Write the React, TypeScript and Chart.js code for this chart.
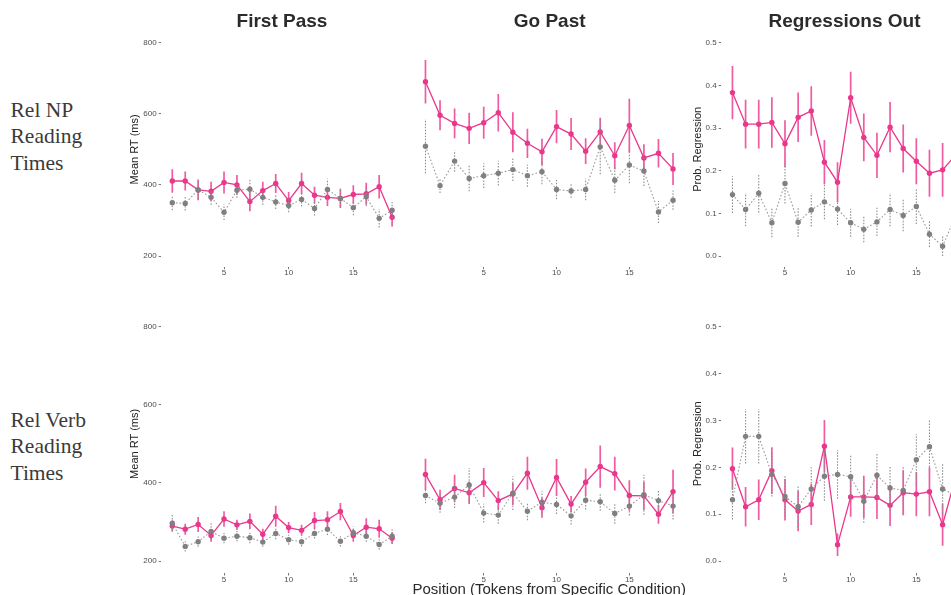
import React, { useEffect, useRef } from 'react';
import { Chart, registerables } from 'chart.js';

Chart.register(...registerables);

// ---------- data ----------
const positions = [1, 2, 3, 4, 5, 6, 7, 8, 9, 10, 11, 12, 13, 14, 15, 16, 17, 18];
const xTicks = [5, 10, 15];
const rtTicks = [200, 400, 600, 800];
const probTicks = [0, 0.1, 0.2, 0.3, 0.4, 0.5];
const panelTitles = ['First Pass', 'Go Past', 'Regressions Out'];
const rowLabels = [
  ['Rel NP', 'Reading', 'Times'],
  ['Rel Verb', 'Reading', 'Times'],
];
const xAxisTitle = 'Position (Tokens from Specific Condition)';
const rtTitle = 'Mean RT (ms)';
const probTitle = 'Prob. Regression';

// Rel NP — First Pass
const npFirstPassPink = [411, 411, 386, 382, 407, 400, 353, 384, 404, 356, 404, 371, 365, 362, 373, 375, 395, 309];
const npFirstPassPinkErr = [33, 27, 29, 27, 31, 28, 27, 25, 27, 24, 30, 24, 24, 27, 26, 31, 33, 26];
const npFirstPassGrey = [350, 348, 386, 365, 323, 385, 388, 365, 352, 342, 359, 334, 387, 362, 336, 367, 306, 329];
const npFirstPassGreyErr = [21, 20, 25, 21, 22, 21, 28, 21, 20, 19, 20, 20, 30, 23, 21, 27, 26, 23];

// Rel NP — Go Past
const npGoPastPink = [690, 596, 573, 559, 575, 603, 548, 517, 493, 564, 543, 495, 549, 482, 567, 476, 489, 445];
const npGoPastPinkErr = [61, 42, 42, 44, 45, 53, 56, 41, 37, 47, 45, 36, 40, 38, 75, 38, 40, 45];
const npGoPastGrey = [509, 398, 467, 418, 426, 433, 443, 426, 437, 387, 383, 387, 507, 413, 456, 439, 324, 357];
const npGoPastGreyErr = [76, 21, 30, 36, 35, 35, 32, 31, 35, 27, 19, 30, 77, 36, 51, 42, 31, 27];

// Rel NP — Regressions Out
const npRegPink = [0.383, 0.309, 0.309, 0.313, 0.263, 0.325, 0.34, 0.22, 0.173, 0.371, 0.278, 0.236, 0.302, 0.252, 0.222, 0.194, 0.202, 0.237];
const npRegPinkErr = [0.0625, 0.057, 0.057, 0.059, 0.055, 0.058, 0.058, 0.052, 0.047, 0.061, 0.056, 0.053, 0.059, 0.056, 0.054, 0.055, 0.063, 0.06];
const npRegGrey = [0.144, 0.109, 0.147, 0.078, 0.17, 0.079, 0.108, 0.127, 0.11, 0.078, 0.0625, 0.08, 0.109, 0.095, 0.116, 0.051, 0.023, 0.095];
const npRegGreyErr = [0.043, 0.039, 0.045, 0.034, 0.047, 0.034, 0.039, 0.041, 0.037, 0.033, 0.03, 0.033, 0.039, 0.037, 0.041, 0.03, 0.023, 0.035];

// Rel Verb — First Pass
const verbFirstPassPink = [290, 282, 294, 266, 308, 293, 302, 269, 315, 286, 279, 304, 306, 327, 266, 287, 283, 259];
const verbFirstPassPinkErr = [14, 14, 19, 16, 20, 13, 20, 14, 27, 14, 14, 22, 22, 22, 16, 23, 23, 15];
const verbFirstPassGrey = [297, 238, 250, 276, 259, 264, 260, 249, 271, 255, 250, 271, 282, 251, 273, 264, 243, 264];
const verbFirstPassGreyErr = [21, 13, 13, 21, 13, 13, 14, 12, 15, 13, 12, 13, 15, 13, 16, 14, 13, 17];

// Rel Verb — Go Past
const verbGoPastPink = [422, 357, 386, 375, 401, 355, 372, 425, 337, 414, 346, 402, 442, 424, 368, 367, 320, 378];
const verbGoPastPinkErr = [40, 26, 35, 29, 37, 24, 28, 42, 26, 47, 21, 35, 54, 43, 39, 36, 24, 56];
const verbGoPastGrey = [368, 348, 364, 395, 323, 318, 374, 328, 351, 345, 316, 356, 352, 322, 341, 370, 355, 341];
const verbGoPastGreyErr = [20, 24, 28, 43, 24, 22, 43, 23, 28, 24, 22, 24, 23, 26, 24, 51, 25, 34];

// Rel Verb — Regressions Out
const verbRegPink = [0.197, 0.116, 0.131, 0.193, 0.131, 0.107, 0.121, 0.245, 0.035, 0.137, 0.137, 0.136, 0.119, 0.146, 0.143, 0.148, 0.078, 0.18];
const verbRegPinkErr = [0.045, 0.042, 0.043, 0.05, 0.044, 0.043, 0.044, 0.056, 0.024, 0.042, 0.045, 0.046, 0.044, 0.048, 0.047, 0.052, 0.045, 0.045];
const verbRegGrey = [0.131, 0.266, 0.266, 0.185, 0.138, 0.116, 0.154, 0.181, 0.185, 0.18, 0.128, 0.183, 0.156, 0.151, 0.216, 0.244, 0.154, 0.14];
const verbRegGreyErr = [0.042, 0.058, 0.058, 0.047, 0.043, 0.043, 0.046, 0.052, 0.052, 0.048, 0.046, 0.047, 0.048, 0.05, 0.055, 0.056, 0.053, 0.05];

// ---------- style ----------
const PINK = '#E9378B';
const PINK_ERR = 'rgba(236,56,140,0.82)';
const GREY_PT = '#808080';
const GREY_LINE = '#9a9a9a';
const SANS = '"Liberation Sans", Arial, sans-serif';

const errorBars = {
  id: 'errorBars',
  beforeDatasetDraw(chart: any, args: any) {
    const ds = chart.data.datasets[args.index];
    if (!ds || !ds.errors) return;
    const { ctx, chartArea } = chart;
    const xs = chart.scales.x;
    const ys = chart.scales.y;
    ctx.save();
    ctx.beginPath();
    ctx.rect(chartArea.left, chartArea.top, chartArea.right - chartArea.left, chartArea.bottom - chartArea.top);
    ctx.clip();
    ctx.strokeStyle = ds.errColor;
    ctx.lineWidth = ds.errWidth;
    ctx.setLineDash(ds.errDash || []);
    ds.data.forEach((p: any, i: number) => {
      const px = xs.getPixelForValue(p.x);
      ctx.beginPath();
      ctx.moveTo(px, ys.getPixelForValue(p.y - ds.errors[i]));
      ctx.lineTo(px, ys.getPixelForValue(p.y + ds.errors[i]));
      ctx.stroke();
    });
    ctx.restore();
  },
};

const cols = [
  { left: 161.3, right: 403.1, L: 125, yShown: true },
  { left: 413.1, right: 685.4, L: 408, yShown: false },
  { left: 721.3, right: 966.9, L: 688, yShown: true },
];
const rows = [
  { top: 32, bottom: 266.7 },
  { top: 314.7, bottom: 573 },
];

const panels = [
  { row: 0, col: 0, prob: false, pink: npFirstPassPink, pinkErr: npFirstPassPinkErr, grey: npFirstPassGrey, greyErr: npFirstPassGreyErr },
  { row: 0, col: 1, prob: false, pink: npGoPastPink, pinkErr: npGoPastPinkErr, grey: npGoPastGrey, greyErr: npGoPastGreyErr },
  { row: 0, col: 2, prob: true, pink: npRegPink, pinkErr: npRegPinkErr, grey: npRegGrey, greyErr: npRegGreyErr },
  { row: 1, col: 0, prob: false, pink: verbFirstPassPink, pinkErr: verbFirstPassPinkErr, grey: verbFirstPassGrey, greyErr: verbFirstPassGreyErr },
  { row: 1, col: 1, prob: false, pink: verbGoPastPink, pinkErr: verbGoPastPinkErr, grey: verbGoPastGrey, greyErr: verbGoPastGreyErr },
  { row: 1, col: 2, prob: true, pink: verbRegPink, pinkErr: verbRegPinkErr, grey: verbRegGrey, greyErr: verbRegGreyErr },
];

function Panel({ p }: { p: any }) {
  const ref = useRef<HTMLCanvasElement | null>(null);
  const c = cols[p.col];
  const r = rows[p.row];
  const T = Math.floor(r.top - 10);
  const pt = r.top - T;
  const H = Math.ceil(r.bottom + 20 - T);
  const xh = H - (r.bottom - T);
  const W = Math.ceil(c.right - c.L + 6);
  const pr = W - (c.right - c.L);
  const pl = c.yShown ? 0 : c.left - c.L;
  const yw = c.yShown ? c.left - c.L : 0;

  useEffect(() => {
    if (!ref.current) return;
    const ticks = p.prob ? probTicks : rtTicks;
    const span = ticks[ticks.length - 1] - ticks[0];
    const ymin = ticks[0] - span * 0.05;
    const ymax = ticks[ticks.length - 1] + span * 0.05;
    const chart = new Chart(ref.current, {
      type: 'line',
      data: {
        datasets: [
          {
            label: 'Non-specific',
            data: positions.map((x, i) => ({ x, y: p.grey[i] })),
            borderColor: GREY_LINE,
            borderWidth: 1.1,
            borderDash: [1.6, 2],
            pointRadius: 2.7,
            pointBorderWidth: 0,
            pointBackgroundColor: GREY_PT,
            tension: 0,
            errors: p.greyErr,
            errColor: '#8c8c8c',
            errWidth: 1.1,
            errDash: [1.5, 1.5],
          } as any,
          {
            label: 'Specific',
            data: positions.map((x, i) => ({ x, y: p.pink[i] })),
            borderColor: PINK,
            borderWidth: 1.3,
            pointRadius: 2.7,
            pointBorderWidth: 0,
            pointBackgroundColor: PINK,
            tension: 0,
            errors: p.pinkErr,
            errColor: PINK_ERR,
            errWidth: 1.7,
          } as any,
        ],
      },
      options: {
        animation: false,
        responsive: false,
        maintainAspectRatio: false,
        events: [],
        layout: { padding: { top: pt, left: pl, right: pr, bottom: 0 } },
        plugins: {
          legend: { display: false },
          tooltip: { enabled: false },
          title: { display: false },
        },
        scales: {
          x: {
            type: 'linear',
            min: 0.15,
            max: 18.85,
            afterBuildTicks: (s: any) => {
              s.ticks = xTicks.map((v) => ({ value: v }));
            },
            afterFit: (s: any) => {
              s.height = xh;
            },
            grid: { display: true, drawOnChartArea: false, drawTicks: true, tickLength: 2.5, color: '#555', lineWidth: 0.8 },
            border: { display: false },
            ticks: { font: { family: SANS, size: 8 }, color: '#4d4d4d', padding: -1, maxRotation: 0, autoSkip: false },
          },
          y: {
            type: 'linear',
            display: c.yShown,
            min: ymin,
            max: ymax,
            afterBuildTicks: (s: any) => {
              s.ticks = ticks.map((v) => ({ value: v }));
            },
            afterFit: (s: any) => {
              s.width = yw;
            },
            grid: { display: true, drawOnChartArea: false, drawTicks: true, tickLength: 2.6, color: '#555', lineWidth: 0.8 },
            border: { display: false },
            ticks: {
              font: { family: SANS, size: 8 },
              color: '#4d4d4d',
              padding: 2,
              autoSkip: false,
              callback: (v: any) => (p.prob ? Number(v).toFixed(1) : String(v)),
            },
            title: {
              display: true,
              text: p.prob ? probTitle : rtTitle,
              font: { family: SANS, size: 11 },
              color: '#222',
              padding: { top: 3, bottom: 0 },
            },
          },
        },
      } as any,
      plugins: [errorBars],
    });
    return () => chart.destroy();
  }, []);

  return (
    <canvas
      ref={ref}
      width={W}
      height={H}
      style={{ position: 'absolute', left: c.L, top: T, width: W, height: H }}
    />
  );
}

const titleCenters = [282, 549.7, 844.5];

export default function App() {
  return (
    <div
      style={{
        position: 'fixed',
        left: 0,
        top: 0,
        width: 951,
        height: 595,
        overflow: 'hidden',
        background: '#fff',
      }}
    >
      {panels.map((p, i) => (
        <Panel key={i} p={p} />
      ))}
      {panelTitles.map((t, i) => (
        <div
          key={t}
          style={{
            position: 'absolute',
            left: titleCenters[i] - 120,
            width: 240,
            top: 10.9,
            textAlign: 'center',
            fontFamily: SANS,
            fontWeight: 'bold',
            fontSize: 19,
            lineHeight: '19px',
            color: '#2b2b2b',
            whiteSpace: 'nowrap',
          }}
        >
          {t}
        </div>
      ))}
      {rowLabels.map((lines, i) => (
        <div
          key={i}
          style={{
            position: 'absolute',
            left: 10.5,
            top: i === 0 ? 96.6 : 406.6,
            fontFamily: '"Liberation Serif", "Times New Roman", serif',
            fontSize: 21.5,
            lineHeight: '26.8px',
            color: '#3a3a3a',
            whiteSpace: 'nowrap',
          }}
        >
          {lines.map((l) => (
            <div key={l}>{l}</div>
          ))}
        </div>
      ))}
      <div
        style={{
          position: 'absolute',
          left: 549.2 - 200,
          width: 400,
          top: 580.8,
          textAlign: 'center',
          fontFamily: SANS,
          fontSize: 15,
          lineHeight: '15px',
          color: '#2b2b2b',
          whiteSpace: 'nowrap',
        }}
      >
        {xAxisTitle}
      </div>
    </div>
  );
}
